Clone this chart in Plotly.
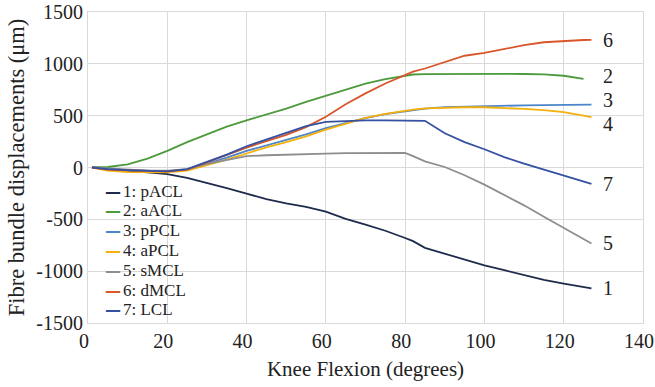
import plotly.graph_objects as go

flexion = [1, 5, 10, 15, 20, 25, 30, 35, 40, 45, 50, 55, 60, 65, 70, 75, 80, 82, 85, 90,
           95, 100, 105, 110, 115, 120, 125, 127]

pACL = [0, -8, -30, -47, -64, -100, -148, -200, -252, -305, -345, -380, -425, -495, -550, -610,
        -680, -710, -775, -830, -890, -945, -990, -1040, -1085, -1120, -1150, -1165]
aACL = [0, 5, 31, 85, 160, 245, 320, 395, 455, 510, 568, 632, 692, 750, 808, 852,
        888, 897, 900, 902, 903, 904, 903, 902, 898, 885, 855, None]
pPCL = [0, -15, -25, -33, -37, -22, 35, 95, 160, 212, 262, 320, 380, 430, 477, 515,
        543, 553, 568, 582, 588, 591, 595, 599, 602, 604, 606, 607]
aPCL = [0, -31, -45, -47, -47, -31, 20, 75, 135, 195, 245, 300, 365, 425, 478, 518,
        550, 558, 570, 578, 581, 581, 575, 565, 553, 535, 500, 485]
sMCL = [0, -8, -20, -30, -31, -16, 35, 75, 110, 118, 125, 130, 134, 138, 141, 140,
        140, 110, 60, 5, -75, -165, -265, -365, -475, -583, -690, -733]
dMCL = [0, -20, -28, -35, -37, -20, 50, 125, 192, 255, 315, 390, 490, 610, 715, 810,
        895, 925, 955, 1018, 1078, 1105, 1145, 1180, 1208, 1222, 1230, 1232]
LCL = [0, -15, -25, -33, -37, -16, 55, 125, 205, 272, 335, 400, 440, 450, 454, 454,
       454, 454, 450, 330, 245, 176, 100, 38, -18, -80, -135, -158]

series_names = ["1: pACL", "2: aACL", "3: pPCL", "4: aPCL", "5: sMCL", "6: dMCL", "7: LCL"]
end_labels = ["1", "2", "3", "4", "5", "6", "7"]
series_values = [pACL, aACL, pPCL, aPCL, sMCL, dMCL, LCL]
colors = ["#1f2b4d", "#4c9a3b", "#4a86c8", "#f4b00e", "#8e8e8e", "#d9562a", "#3451a3"]
label_shift = [0, 3, 5, -7, 0, 0, 0]

y_ticks = [-1500, -1000, -500, 0, 500, 1000, 1500]
y_tick_text = ["-1500", "-1000", "-500", "0", "500", "1000", "1500"]
x_ticks = [0, 20, 40, 60, 80, 100, 120, 140]

FONT = "Liberation Serif, Times New Roman, DejaVu Serif, serif"
TXT = "#222222"

ML, MR, MT, MB = 88, 12, 12, 64
W, H = 655, 387
plot_w = W - ML - MR
plot_h = H - MT - MB

fig = go.Figure()
for name, vals, col in zip(series_names, series_values, colors):
    fig.add_trace(go.Scatter(x=flexion, y=vals, mode="lines", name=name,
                             line=dict(color=col, width=1.8), showlegend=False))

# end-of-line labels
label_x = 129.5
for lab, vals, sh in zip(end_labels, series_values, label_shift):
    last = [v for v in vals if v is not None][-1]
    fig.add_annotation(x=label_x, y=last, text=lab, showarrow=False, xanchor="left",
                       yanchor="middle", yshift=sh, font=dict(family=FONT, size=20, color=TXT))

# compact legend built from text (coloured dash + name)
leg_top = 191
leg_step = 19.8
for i, (name, col) in enumerate(zip(series_names, colors)):
    py = leg_top + i * leg_step
    yp = (MT + plot_h - py) / plot_h
    fig.add_annotation(xref="paper", yref="paper", x=(103 - ML) / plot_w, y=yp,
                       text="<b>—</b>", showarrow=False, xanchor="left", yanchor="middle",
                       font=dict(family="DejaVu Sans", size=16, color=col))
    fig.add_annotation(xref="paper", yref="paper", x=(121 - ML) / plot_w, y=yp,
                       text=name, showarrow=False, xanchor="left", yanchor="middle",
                       font=dict(family=FONT, size=17, color=TXT))

fig.update_layout(
    width=W, height=H,
    margin=dict(l=ML, r=MR, t=MT, b=MB, autoexpand=False),
    paper_bgcolor="white", plot_bgcolor="white",
    font=dict(family=FONT, size=20, color=TXT),
)
fig.update_xaxes(range=[0, 140], tickvals=x_ticks, showgrid=True, gridcolor="#d9d9d9",
                 gridwidth=1, showline=True, linecolor="#d9d9d9", mirror=True, zeroline=False,
                 ticks="", ticklabeloverflow="allow", ticklabelshift=-4, automargin=False,
                 title=dict(text="Knee Flexion (degrees)", standoff=10,
                            font=dict(family=FONT, size=21)),
                 tickfont=dict(family=FONT, size=20))
fig.update_yaxes(range=[-1500, 1500], tickvals=y_ticks, ticktext=y_tick_text, showgrid=True,
                 gridcolor="#d9d9d9", gridwidth=1, showline=True, linecolor="#d9d9d9",
                 mirror=True, zeroline=False, ticks="", ticklabeloverflow="allow", automargin=False,
                 title=dict(text="Fibre bundle displacements (μm)", standoff=5,
                            font=dict(family=FONT, size=22.5)),
                 tickfont=dict(family=FONT, size=20))

fig.write_html("out.html")
